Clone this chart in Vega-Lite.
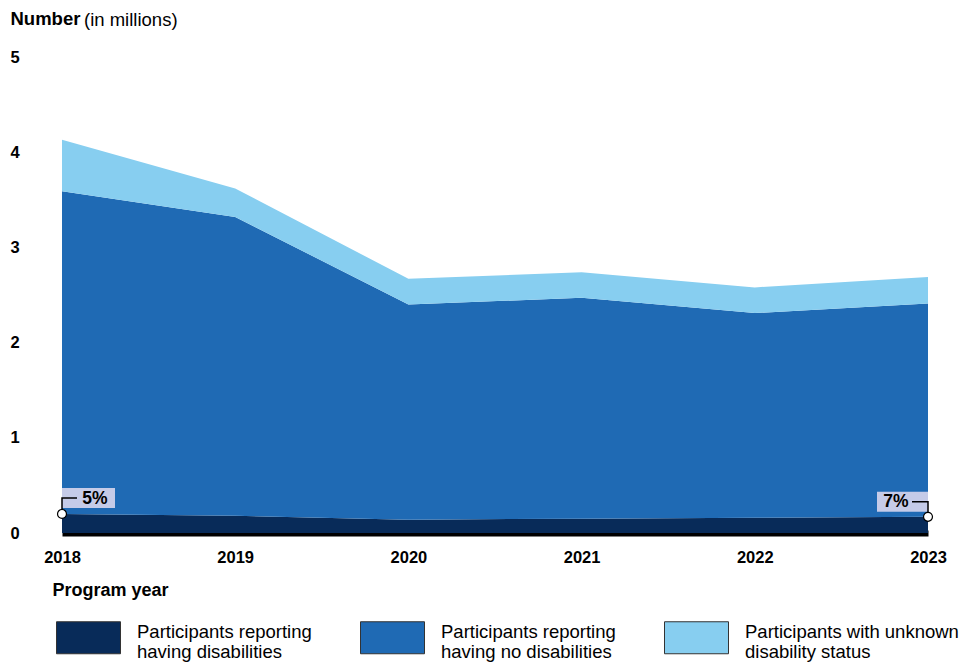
{
  "$schema": "https://vega.github.io/schema/vega-lite/v6.json",
  "width": 866,
  "height": 476,
  "autosize": {"type": "none"},
  "padding": {"left": 62, "top": 57, "right": 50, "bottom": 129},
  "background": "white",
  "title": {"text": "(in millions)", "anchor": "start", "frame": "group", "font": "Liberation Sans", "fontSize": 18.5, "fontWeight": "normal", "color": "#000000", "dx": 22, "dy": 20, "offset": 0},
  "config": {"view": {"stroke": null}, "font": "Liberation Sans"},
  "data": {"values": [
    {"year": 2018, "category": "Participants reporting having disabilities", "value": 0.20, "note": "5%"},
    {"year": 2019, "category": "Participants reporting having disabilities", "value": 0.18},
    {"year": 2020, "category": "Participants reporting having disabilities", "value": 0.14},
    {"year": 2021, "category": "Participants reporting having disabilities", "value": 0.15},
    {"year": 2022, "category": "Participants reporting having disabilities", "value": 0.16},
    {"year": 2023, "category": "Participants reporting having disabilities", "value": 0.17, "note": "7%"},
    {"year": 2018, "category": "Participants reporting having no disabilities", "value": 3.39},
    {"year": 2019, "category": "Participants reporting having no disabilities", "value": 3.14},
    {"year": 2020, "category": "Participants reporting having no disabilities", "value": 2.26},
    {"year": 2021, "category": "Participants reporting having no disabilities", "value": 2.32},
    {"year": 2022, "category": "Participants reporting having no disabilities", "value": 2.15},
    {"year": 2023, "category": "Participants reporting having no disabilities", "value": 2.24},
    {"year": 2018, "category": "Participants with unknown disability status", "value": 0.54},
    {"year": 2019, "category": "Participants with unknown disability status", "value": 0.30},
    {"year": 2020, "category": "Participants with unknown disability status", "value": 0.27},
    {"year": 2021, "category": "Participants with unknown disability status", "value": 0.27},
    {"year": 2022, "category": "Participants with unknown disability status", "value": 0.27},
    {"year": 2023, "category": "Participants with unknown disability status", "value": 0.28}
  ]},
  "encoding": {
    "x": {"field": "year", "type": "quantitative",
      "scale": {"domain": [2018, 2023], "nice": false, "zero": false},
      "axis": {"values": [2018, 2019, 2020, 2021, 2022, 2023], "format": "d", "labelFlush": false, "grid": false, "ticks": false, "tickSize": 0,
        "labelFont": "Liberation Sans", "labelFontSize": 16.5, "labelFontWeight": "bold", "labelColor": "#000000", "labelPadding": 16,
        "domain": true, "domainColor": "#000000", "domainWidth": 6,
        "title": "Program year", "titleFont": "Liberation Sans", "titleFontSize": 18, "titleFontWeight": "bold", "titleColor": "#000000",
        "titleAlign": "left", "titleAnchor": "start", "titleX": -10, "titleY": 57, "titleBaseline": "middle"}},
    "y": {"field": "value", "type": "quantitative",
      "scale": {"domain": [0, 5], "nice": false},
      "axis": {"values": [0, 1, 2, 3, 4, 5], "grid": false, "ticks": false, "tickSize": 0, "domain": false,
        "labelFont": "Liberation Sans", "labelFontSize": 16.5, "labelFontWeight": "bold", "labelColor": "#000000", "labelAlign": "left", "labelPadding": 52, "labelBaseline": "middle",
        "title": "Number", "titleFont": "Liberation Sans", "titleFontSize": 18.5, "titleFontWeight": "bold", "titleColor": "#000000",
        "titleAngle": 0, "titleAlign": "left", "titleBaseline": "middle", "titleX": -52, "titleY": -39}}
  },
  "layer": [
    {
      "mark": {"type": "area", "interpolate": "linear", "opacity": 1},
      "encoding": {
        "color": {"field": "category", "type": "nominal",
          "scale": {"domain": ["Participants reporting having disabilities", "Participants reporting having no disabilities", "Participants with unknown disability status"],
            "range": ["#082b59", "#1f6ab4", "#87cef0"]},
          "legend": {"orient": "none", "legendX": -6, "legendY": 548, "direction": "horizontal", "columns": 3, "title": null, "padding": 0,
            "symbolType": "M-1,-0.5H1V0.5H-1Z", "symbolSize": 4096, "symbolStrokeColor": "#333333", "symbolStrokeWidth": 1, "symbolOpacity": 1,
            "labelFont": "Liberation Sans", "labelFontSize": 18.5, "labelColor": "#000000", "labelOffset": 16, "labelBaseline": "alphabetic", "labelLimit": 300,
            "columnPadding": 46,
            "labelExpr": "datum.label == 'Participants reporting having disabilities' ? ['Participants reporting', 'having disabilities'] : datum.label == 'Participants reporting having no disabilities' ? ['Participants reporting', 'having no disabilities'] : ['Participants with unknown', 'disability status']"}
        },
        "order": {"field": "category", "type": "nominal", "sort": "ascending"}
      }
    },
    {
      "transform": [{"filter": "datum.note != null && datum.year == 2018"}],
      "mark": {"type": "point", "shape": "M0,-26H53V-6H0Z", "size": 4, "filled": true, "fill": "#c5cbe8", "strokeWidth": 0, "opacity": 1}
    },
    {
      "transform": [{"filter": "datum.note != null && datum.year == 2023"}],
      "mark": {"type": "point", "shape": "M-51,-25H0V-5H-51Z", "size": 4, "filled": true, "fill": "#c5cbe8", "strokeWidth": 0, "opacity": 1}
    },
    {
      "transform": [{"filter": "datum.note != null && datum.year == 2018"}],
      "mark": {"type": "point", "shape": "M0,-4V-16H15", "size": 4, "filled": false, "stroke": "#000000", "strokeWidth": 1.5, "opacity": 1}
    },
    {
      "transform": [{"filter": "datum.note != null && datum.year == 2023"}],
      "mark": {"type": "point", "shape": "M0,-4V-15H-16", "size": 4, "filled": false, "stroke": "#000000", "strokeWidth": 1.5, "opacity": 1}
    },
    {
      "transform": [{"filter": "datum.note != null"}],
      "mark": {"type": "point", "shape": "circle", "size": 80, "filled": true, "fill": "#ffffff", "stroke": "#000000", "strokeWidth": 1.2, "opacity": 1}
    },
    {
      "transform": [{"filter": "datum.note != null && datum.year == 2018"}],
      "mark": {"type": "text", "dx": 33, "dy": -15, "font": "Liberation Sans", "fontSize": 17.5, "fontWeight": "bold", "color": "#000000", "align": "center", "baseline": "middle"},
      "encoding": {"text": {"field": "note"}}
    },
    {
      "transform": [{"filter": "datum.note != null && datum.year == 2023"}],
      "mark": {"type": "text", "dx": -32, "dy": -15, "font": "Liberation Sans", "fontSize": 17.5, "fontWeight": "bold", "color": "#000000", "align": "center", "baseline": "middle"},
      "encoding": {"text": {"field": "note"}}
    }
  ]
}
